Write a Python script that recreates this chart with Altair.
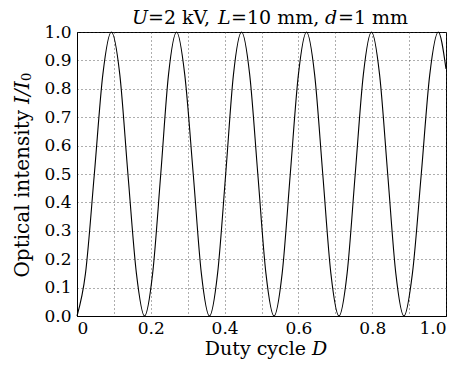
import altair as alt
import pandas as pd

# Values
duty = [0.000, 0.023, 0.047, 0.070, 0.093, 0.116, 0.138, 0.161,
        0.183, 0.205, 0.227, 0.248, 0.270, 0.292, 0.315, 0.337,
        0.359, 0.381, 0.403, 0.424, 0.446, 0.468, 0.490, 0.512,
        0.534, 0.556, 0.578, 0.600, 0.622, 0.644, 0.666, 0.688,
        0.710, 0.732, 0.754, 0.776, 0.798, 0.820, 0.842, 0.864,
        0.886, 0.909, 0.933, 0.956, 0.979, 1.000]
intensity = [0.00, 0.15, 0.50, 0.85, 1.00, 0.85, 0.50, 0.15,
             0.00, 0.15, 0.50, 0.85, 1.00, 0.85, 0.50, 0.15,
             0.00, 0.15, 0.50, 0.85, 1.00, 0.85, 0.50, 0.15,
             0.00, 0.15, 0.50, 0.85, 1.00, 0.85, 0.50, 0.15,
             0.00, 0.15, 0.50, 0.85, 1.00, 0.85, 0.50, 0.15,
             0.00, 0.15, 0.50, 0.85, 1.00, 0.87]
x_ticks = [0.0, 0.1, 0.2, 0.3, 0.4, 0.5, 0.6, 0.7, 0.8, 0.9, 1.0]
y_ticks = [0.0, 0.1, 0.2, 0.3, 0.4, 0.5, 0.6, 0.7, 0.8, 0.9, 1.0]

df = pd.DataFrame({"D": duty, "I": intensity})

FONT = "DejaVu Serif"
W, H = 369, 284

line = alt.Chart(df).mark_line(color="black", strokeWidth=1.1, interpolate="monotone").encode(
    x=alt.X("D:Q", scale=alt.Scale(domain=[0, 1], nice=False),
            axis=alt.Axis(values=x_ticks, title=None, labelPadding=4,
                          labelExpr="round(datum.value*10) % 2 == 0 ? (datum.value == 0 ? '0' : format(datum.value, '.1f')) : ''")),
    y=alt.Y("I:Q", scale=alt.Scale(domain=[0, 1], nice=False),
            axis=alt.Axis(values=y_ticks, format=".1f", title=None, labelPadding=6)),
)


def txt(s, x, y, italic=False, size=19, align="left", angle=0, baseline="alphabetic"):
    return alt.Chart(alt.Data(values=[{}])).mark_text(
        text=s, font=FONT, fontSize=size, fontStyle="italic" if italic else "normal",
        align=align, baseline=baseline, angle=angle, color="black"
    ).encode(x=alt.value(x), y=alt.value(y))


title_y = -8
texts = [
    txt("U", 55, title_y, italic=True),
    txt("=2 kV,", 71, title_y),
    txt("L", 141, title_y, italic=True),
    txt("=10 mm,", 154, title_y),
    txt("d", 248, title_y, italic=True),
    txt("=1 mm", 261, title_y),
    # x title
    txt("Duty cycle", 229, 323, align="right"),
    txt("D", 235, 323, italic=True),
    # y title (rotated)
    txt("Optical intensity", -54, 78, size=20, align="right", angle=270, baseline="middle"),
    txt("I/I", -54, 72, size=20, italic=True, align="left", angle=270, baseline="middle"),
    txt("0", -50, 49, size=13, align="left", angle=270, baseline="middle"),
]

chart = alt.layer(line, *texts).properties(
    width=W, height=H,
    background="white",
    autosize=alt.AutoSizeParams(type="none"),
    padding={"left": 77, "top": 32, "right": 20, "bottom": 49},
).configure_view(
    stroke="black", strokeWidth=1
).configure_axis(
    labelFont=FONT, labelFontSize=17, labelColor="black",
    ticks=False,
    domain=True, domainColor="black",
    grid=True, gridColor="#333333", gridDash=[1, 3], gridWidth=0.8, gridOpacity=1,
)

chart.save("out.html", embed_options={"renderer": "svg", "actions": False})
